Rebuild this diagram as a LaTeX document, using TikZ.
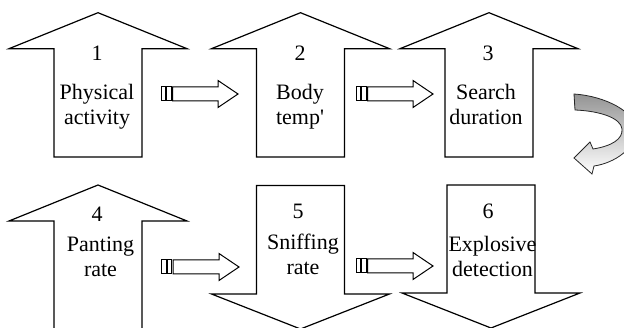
\documentclass[tikz,border=0pt]{standalone}
\usepackage{fontspec}
\setmainfont{Liberation Serif}
\usetikzlibrary{calc}

% big block arrows: centre x, tip/top y, bottom/tip y
\newcommand{\uparr}[3]{\draw[bigarrow] (#1-44,#3) -- (#1-44,#2+36) -- (#1-89,#2+36) -- (#1,#2) -- (#1+89,#2+36) -- (#1+44,#2+36) -- (#1+44,#3) -- cycle;}
\newcommand{\downarr}[3]{\draw[bigarrow] (#1-44,#2) -- (#1+44,#2) -- (#1+44,#3-35) -- (#1+89,#3-35) -- (#1,#3) -- (#1-89,#3-35) -- (#1-44,#3-35) -- cycle;}
% small hollow arrow between two coordinates
\newcommand{\smallarr}[2]{%
  \draw[smallarrow] ($(#1)+(0,-7)$) rectangle ++(4.5,14);
  \draw[smallarrow] ($(#1)+(5.5,-7)$) rectangle ++(4.5,14);
  \draw[smallarrow] ($(#1)+(11.5,-7)$) -- ($(#2)+(-20,-7)$) -- ($(#2)+(-20,-13.5)$) -- (#2)
    -- ($(#2)+(-20,13.5)$) -- ($(#2)+(-20,7)$) -- ($(#1)+(11.5,7)$) -- cycle;}

\begin{document}
\begin{tikzpicture}[x=1pt,y=-1pt]
        \tikzset{bigarrow/.style={draw,line width=1.2pt,line join=miter},
            smallarrow/.style={draw,line width=1pt},
            turnarrow/.style={draw=black!85,line width=0.8pt,top color=black!42,middle color=black!30,bottom color=white},
            num/.style={anchor=base,font=\fontsize{22}{25}\selectfont,inner sep=0pt},
            lbl/.style={align=center,font=\fontsize{22}{25}\selectfont,inner sep=0pt}}
        \useasboundingbox (0,0) rectangle (624,328);
        \fill[white] (0,0) rectangle (624,328);
        % top row
        \uparr{98}{12.7}{157}
        \uparr{300.5}{12.7}{157}
        \uparr{489}{12.7}{157}
        % bottom row
        \uparr{98}{185}{340}
        \downarr{300.5}{185.5}{329}
        \downarr{491}{185}{328}
        % labels
        \node[num] (n1) at (97,61) {1};
        \node[lbl] (l1) at (97,107.5) {\strut Physical\\\strut activity};
        \node[num] (n2) at (300,61) {2};
        \node[lbl] (l2) at (300,107.5) {\strut Body\\\strut temp\textquotesingle};
        \node[num] (n3) at (488,61) {3};
        \node[lbl] (l3) at (486,107.5) {\strut Search\\\strut duration};
        \node[num] (n4) at (97,221.5) {4};
        \node[lbl] (l4) at (100.5,259.5) {\strut Panting\\\strut rate};
        \node[num] (n5) at (298,219) {5};
        \node[lbl] (l5) at (303,257) {\strut Sniffing\\\strut rate};
        \node[num] (n6) at (488,219) {6};
        \node[lbl] (l6) at (492.5,259) {\strut Explosive\\\strut detection};
        % small arrows
        \coordinate (s12) at (161,94);   \coordinate (e12) at (238,94);
        \coordinate (s23) at (356,94);   \coordinate (e23) at (433,94);
        \coordinate (s45) at (161.5,267); \coordinate (e45) at (239,267);
        \coordinate (s56) at (356,266);  \coordinate (e56) at (433,266);
        \smallarr{s12}{e12}
        \smallarr{s23}{e23}
        \smallarr{s45}{e45}
        \smallarr{s56}{e56}
        % turn to the second row
        \draw[turnarrow] (574,94) .. controls (605,96) and (636,112) .. (636,130)
            .. controls (636,148) and (615,163) .. (594,166) -- (592,174) -- (574,158)
            -- (590,142) -- (593,149) .. controls (612,146) and (623,139) .. (622,129)
            .. controls (621,118) and (600,111) .. (575,110) -- cycle;
    \end{tikzpicture}
\end{document}
